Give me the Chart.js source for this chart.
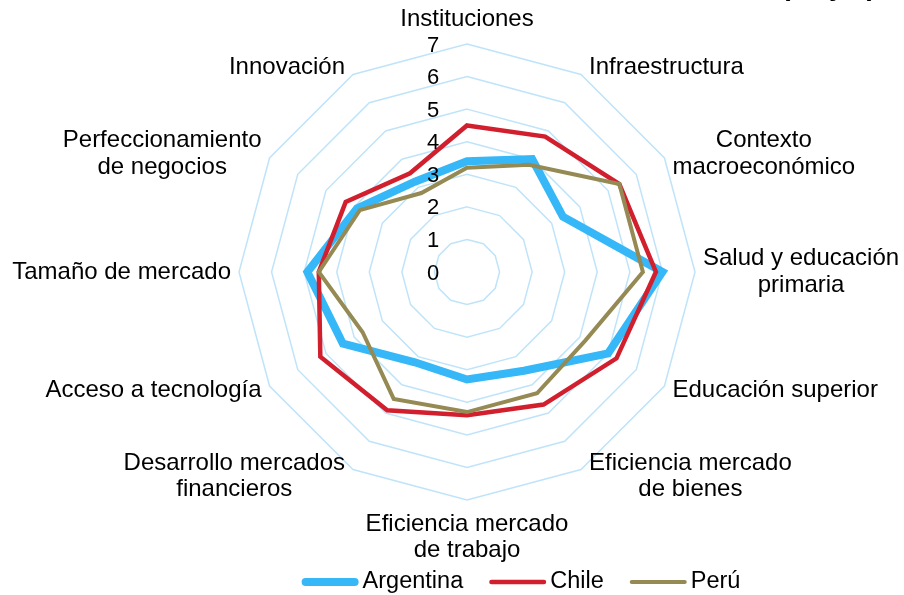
<!DOCTYPE html>
<html>
<head>
<meta charset="utf-8">
<script src="https://cdn.jsdelivr.net/npm/chart.js@4.4.1/dist/chart.umd.min.js"></script>
<style>
  html, body { margin: 0; padding: 0; background: #fff; }
</style>
</head>
<body>
<canvas id="radar" width="904" height="595"></canvas>
<script>
// categories (multi-line labels as arrays), clockwise from top
var categories = [
    ["Instituciones"],
    ["Infraestructura"],
    ["Contexto", "macroeconómico"],
    ["Salud y educación", "primaria"],
    ["Educación superior"],
    ["Eficiencia mercado", "de bienes"],
    ["Eficiencia mercado", "de trabajo"],
    ["Desarrollo mercados", "financieros"],
    ["Acceso a tecnología"],
    ["Tamaño de mercado"],
    ["Perfeccionamiento", "de negocios"],
    ["Innovación"]
];

// series values (scale 1 to 7)
var argentina = [3.4, 4.0, 3.4, 6.0, 5.0, 3.5, 3.3, 3.2, 4.4, 4.9, 3.9, 3.2];
var chile     = [4.5, 4.8, 5.4, 5.8, 5.3, 4.7, 4.4, 4.9, 5.2, 4.55, 4.3, 3.5];
var peru      = [3.2, 3.8, 5.4, 5.4, 4.2, 4.3, 4.3, 4.5, 3.7, 4.55, 3.8, 2.8];

var tickValues = [0, 1, 2, 3, 4, 5, 6, 7];

var FONT = "'Liberation Sans', Arial, sans-serif";

var overlay = {
    id: 'overlay',
    afterDraw: function(chart) {
        var ctx = chart.ctx;
        var r = chart.scales.r;
        ctx.save();
        ctx.fillStyle = '#000';

        // tick numbers, left of the vertical axis
        ctx.font = "22px " + FONT;
        ctx.textAlign = 'center';
        ctx.textBaseline = 'middle';
        tickValues.forEach(function(v) {
            var y = r.yCenter - r.getDistanceFromCenterForValue(v) + 1.5;
            ctx.fillText(String(v), r.xCenter - 34, y);
        });

        // point labels, placed outside each vertex
        ctx.font = "24px " + FONT;
        var lh = 26.5;
        var n = chart.data.labels.length;
        chart.data.labels.forEach(function(lines, i) {
            var p = r.getPointPosition(i, r.drawingArea);
            var ang = i * 360 / n;
            var w = 0;
            lines.forEach(function(l) { w = Math.max(w, ctx.measureText(l).width); });
            var h = lines.length * lh;
            var cx, top;
            if (ang === 0) {
                cx = p.x; top = p.y - 11 - h;
            } else if (ang === 180) {
                cx = p.x; top = p.y + 11;
            } else {
                cx = ang < 180 ? p.x + 8 + w / 2 : p.x - 8 - w / 2;
                top = p.y - 8 * Math.cos(ang * Math.PI / 180) - h / 2;
            }
            lines.forEach(function(l, k) {
                ctx.fillText(l, cx, top + lh * (k + 0.5));
            });
        });

        // legend
        ctx.font = "23.5px " + FONT;
        var sets = chart.data.datasets;
        var lineLen = 57, gap = 4, itemGap = 26, ly = 582;
        var total = 0;
        sets.forEach(function(ds, i) {
            total += lineLen + gap + ctx.measureText(ds.label).width;
            if (i < sets.length - 1) total += itemGap;
        });
        var x = 521 - total / 2;
        ctx.textAlign = 'left';
        sets.forEach(function(ds) {
            var lw = ds.borderWidth;
            ctx.strokeStyle = ds.borderColor;
            ctx.lineWidth = lw;
            ctx.lineCap = 'round';
            ctx.beginPath();
            ctx.moveTo(x + lw / 2, ly);
            ctx.lineTo(x + lineLen - lw / 2, ly);
            ctx.stroke();
            x += lineLen + gap;
            ctx.fillText(ds.label, x, ly);
            x += ctx.measureText(ds.label).width + itemGap;
        });

        // title cut off at top edge
        ctx.font = "bold 28px " + FONT;
        ctx.textAlign = 'right';
        ctx.textBaseline = 'alphabetic';
        ctx.fillText('(mejor)', 876, -5);
        ctx.restore();
    }
};

var ctx = document.getElementById('radar').getContext('2d');
var chart = new Chart(ctx, {
    type: 'radar',
    data: {
        labels: categories,
        datasets: [
            { label: 'Argentina', data: argentina, borderColor: '#36b7f7', borderWidth: 8, fill: false, pointRadius: 0, order: 2 },
            { label: 'Chile', data: chile, borderColor: '#d11f2e', borderWidth: 4.5, fill: false, pointRadius: 0, order: 1 },
            { label: 'Perú', data: peru, borderColor: '#958a54', borderWidth: 4, fill: false, pointRadius: 0, order: 0 }
        ]
    },
    options: {
        responsive: false,
        animation: false,
        layout: { padding: { top: 44, bottom: 95, left: 30, right: 0 } },
        plugins: {
            legend: { display: false },
            tooltip: { enabled: false }
        },
        elements: { line: { tension: 0 } },
        scales: {
            r: {
                min: 0,
                max: 7,
                ticks: { stepSize: 1, display: false },
                pointLabels: { display: false },
                angleLines: { display: false },
                grid: { color: '#bfe4fa', lineWidth: 1.5 }
            }
        }
    },
    plugins: [overlay]
});
</script>
</body>
</html>
